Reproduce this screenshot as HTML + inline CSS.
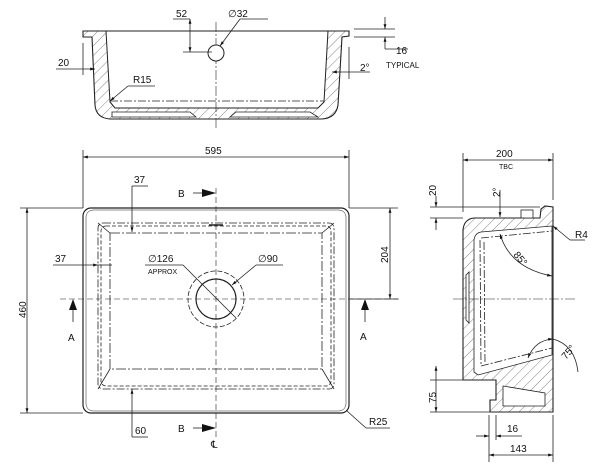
<!DOCTYPE html>
<html><head><meta charset="utf-8"><style>
html,body{margin:0;padding:0;background:#fff}
svg{display:block}
text{font-family:"Liberation Sans",sans-serif;font-size:10px;fill:#111}
</style></head><body>
<svg width="600" height="475" viewBox="0 0 600 475" xmlns="http://www.w3.org/2000/svg">
<defs>
<pattern id="h" width="7" height="7" patternUnits="userSpaceOnUse" patternTransform="rotate(45)">
<line x1="0" y1="0" x2="0" y2="7" stroke="#333" stroke-width="0.6"/></pattern>
<marker id="a" viewBox="0 0 10 10" refX="10" refY="5" markerWidth="6" markerHeight="6" orient="auto-start-reverse"><path d="M0,2 L10,5 L0,8z" fill="#111"/></marker>
</defs>
<g fill="none" stroke="#222" stroke-width="0.8">
<!-- TOP SECTION -->
<path d="M83,31 L349,31 L349,36 L342,37 L338,105 Q336,118 322,119 L110,119 Q96,118 95,105 L92,37 L83,37 Z" fill="url(#h)" stroke-width="1.1"/>
<path d="M106,31 L110,102 L115,108 L318,108 L324,102 L328,31 Z" fill="#fff" stroke-width="1"/>
<path d="M112,112 L190,112 L196,117 L112,117 Z M236,112 L310,112 L318,117 L230,117 Z" fill="#fff"/>
<line x1="106" y1="31" x2="328" y2="31" stroke-dasharray="8,2,2,2"/>
<line x1="110" y1="101" x2="324" y2="101" stroke-dasharray="8,2,2,2"/>
<line x1="216" y1="22" x2="216" y2="128" stroke-dasharray="10,2,2,2" stroke-width="0.6"/>
<circle cx="216" cy="53" r="8" fill="#fff" stroke-width="1"/>
<line x1="173" y1="19" x2="190" y2="19"/><line x1="190" y1="19" x2="190" y2="52" marker-end="url(#a)" marker-start="url(#a)"/>
<line x1="183" y1="52" x2="212" y2="52"/>
<line x1="268" y1="19" x2="240" y2="19"/><line x1="240" y1="19" x2="220" y2="46" marker-end="url(#a)"/>
<line x1="56" y1="69" x2="95" y2="69" marker-end="url(#a)"/><line x1="83" y1="43" x2="83" y2="75"/>
<line x1="155" y1="86" x2="128" y2="86"/><line x1="128" y1="86" x2="110" y2="101" marker-end="url(#a)"/>
<line x1="354" y1="29" x2="395" y2="29"/><line x1="354" y1="37" x2="395" y2="37"/>
<line x1="385" y1="17" x2="385" y2="29" marker-end="url(#a)"/><line x1="385" y1="49" x2="385" y2="37" marker-end="url(#a)"/>
<line x1="385" y1="49" x2="408" y2="49"/>
<line x1="370" y1="72" x2="332" y2="72" marker-end="url(#a)"/><line x1="349" y1="47" x2="349" y2="79"/>
</g>
<text x="176" y="17">52</text><text x="228" y="17">∅32</text>
<text x="58" y="66">20</text><text x="133" y="83">R15</text>
<text x="360" y="71">2°</text><text x="396" y="54">16</text>
<text x="386" y="68" style="font-size:8px">TYPICAL</text>

<!-- PLAN VIEW -->
<g fill="none" stroke="#222" stroke-width="0.8">
<rect x="83" y="208" width="266" height="205" rx="8" stroke-width="1.2"/>
<rect x="86" y="210" width="260" height="201" rx="7" stroke-width="0.5"/>
<rect x="98" y="223" width="236" height="166" rx="5" stroke-dasharray="8,2,2,2"/>
<rect x="101" y="226" width="230" height="160" rx="5" stroke-dasharray="4,2"/>
<rect x="110" y="233" width="212" height="136" stroke-dasharray="10,2,2,2"/>
<line x1="98" y1="223" x2="110" y2="233"/><line x1="334" y1="223" x2="322" y2="233"/>
<line x1="98" y1="389" x2="110" y2="369"/><line x1="334" y1="389" x2="322" y2="369"/>
<line x1="209" y1="225" x2="223" y2="225" stroke-width="1.5"/>
<circle cx="216" cy="299" r="20" stroke-width="1.2"/>
<circle cx="216" cy="299" r="28" stroke-dasharray="5,2"/>
<line x1="60" y1="299" x2="400" y2="299" stroke-dasharray="6,3" stroke-width="0.6"/>
<line x1="216" y1="188" x2="216" y2="440" stroke-dasharray="6,3" stroke-width="0.6"/>
<line x1="83" y1="150" x2="83" y2="208"/><line x1="349" y1="150" x2="349" y2="208"/>
<line x1="83" y1="157" x2="349" y2="157" marker-start="url(#a)" marker-end="url(#a)"/>
<line x1="20" y1="208" x2="83" y2="208"/><line x1="20" y1="413" x2="83" y2="413"/>
<line x1="27" y1="208" x2="27" y2="413" marker-start="url(#a)" marker-end="url(#a)"/>
<line x1="349" y1="208" x2="398" y2="208"/><line x1="349" y1="299" x2="398" y2="299"/>
<line x1="390" y1="208" x2="390" y2="299" marker-start="url(#a)" marker-end="url(#a)"/>
<line x1="148" y1="186" x2="132" y2="186"/><line x1="132" y1="186" x2="132" y2="232" marker-end="url(#a)"/>
<line x1="53" y1="265" x2="98" y2="265" marker-end="url(#a)"/><line x1="98" y1="265" x2="112" y2="265"/>
<line x1="145" y1="265" x2="183" y2="265"/><line x1="183" y1="265" x2="236" y2="318"/>
<line x1="283" y1="265" x2="256" y2="265"/><line x1="256" y1="265" x2="232" y2="285" marker-end="url(#a)"/>
<line x1="132" y1="437" x2="132" y2="389" marker-end="url(#a)"/><line x1="132" y1="437" x2="148" y2="437"/>
<line x1="347" y1="411" x2="366" y2="428"/><line x1="366" y1="428" x2="390" y2="428"/>
<line x1="73" y1="322" x2="73" y2="308"/>
<line x1="365" y1="322" x2="365" y2="308"/>
<line x1="193" y1="193" x2="203" y2="193"/>
<line x1="193" y1="428" x2="203" y2="428"/>
</g>
<g fill="#111">
<polygon points="73,299 69,310 77,310"/><polygon points="365,299 361,310 369,310"/>
<polygon points="216,193 202,189 202,197"/><polygon points="216,428 202,424 202,432"/>
</g>
<text x="205" y="154">595</text>
<text x="134" y="183">37</text><text x="55" y="262">37</text>
<text x="148" y="262">∅126</text><text x="148" y="274" style="font-size:7px">APPROX</text>
<text x="258" y="262">∅90</text>
<text x="68" y="341">A</text><text x="360" y="340">A</text>
<text x="178" y="197">B</text><text x="178" y="432">B</text>
<text x="135" y="434">60</text><text x="369" y="425">R25</text>
<text x="211" y="448">℄</text>
<text transform="translate(26,318) rotate(-90)">460</text>
<text transform="translate(388,263) rotate(-90)">204</text>

<!-- SIDE VIEW -->
<g fill="none" stroke="#222" stroke-width="0.8">
<path d="M463,380 L463,230 Q464,219 474,218 L540,218 L541,209 L545,206 L553,207 L553,412 L490,412 L490,400 L496,400 L496,380 Z" fill="url(#h)" stroke-width="1.1"/>
<path d="M474,372 L474,240 Q475,233 481,232 L552,226 L552,355 L478,375 Z" fill="#fff"/>
<path d="M503,386 L545,393 L545,406 L503,406 Z" fill="#fff"/>
<rect x="521" y="210" width="12" height="8" fill="#fff"/>
<path d="M466,275 L466,320 L469,323 L469,272 Z" fill="#fff"/>
<path d="M480,240 L481,365" stroke-dasharray="8,2,2,2"/><path d="M484,242 L485,362" stroke-dasharray="8,2,2,2"/>
<path d="M481,238 L552,231" stroke-dasharray="8,2,2,2"/>
<path d="M481,366 L552,348" stroke-dasharray="8,2,2,2"/>
<line x1="453" y1="299" x2="575" y2="299" stroke-dasharray="10,2,2,2" stroke-width="0.6"/>
<line x1="463" y1="153" x2="463" y2="212"/><line x1="553" y1="153" x2="553" y2="200"/>
<line x1="463" y1="160" x2="553" y2="160" marker-start="url(#a)" marker-end="url(#a)"/>
<line x1="430" y1="207" x2="540" y2="207"/><line x1="430" y1="218" x2="463" y2="218"/>
<line x1="436" y1="196" x2="436" y2="207" marker-end="url(#a)"/><line x1="436" y1="230" x2="436" y2="218" marker-end="url(#a)"/>
<line x1="500" y1="190" x2="500" y2="217" marker-end="url(#a)"/>
<line x1="585" y1="240" x2="570" y2="240"/><line x1="570" y1="240" x2="553" y2="226" marker-end="url(#a)"/>
<path d="M500,234 Q510,268 552,276" marker-start="url(#a)" marker-end="url(#a)"/>
<path d="M528,358 Q535,340 553,339" marker-start="url(#a)" marker-end="url(#a)"/>
<path d="M553,339 Q575,345 578,372"/>
<line x1="430" y1="380" x2="463" y2="380"/><line x1="430" y1="412" x2="490" y2="412"/>
<line x1="436" y1="366" x2="436" y2="412" marker-start="url(#a)" marker-end="url(#a)"/>
<line x1="489" y1="415" x2="489" y2="462"/><line x1="496" y1="415" x2="496" y2="440"/><line x1="553" y1="415" x2="553" y2="462"/>
<line x1="476" y1="436" x2="489" y2="436" marker-end="url(#a)"/><line x1="522" y1="436" x2="496" y2="436" marker-end="url(#a)"/>
<line x1="489" y1="455" x2="553" y2="455" marker-start="url(#a)" marker-end="url(#a)"/>
</g>
<text x="496" y="157">200</text><text x="499" y="169" style="font-size:7px">TBC</text>
<text transform="translate(436,196) rotate(-90)">20</text>
<text transform="translate(500,197) rotate(-90)">2°</text>
<text x="575" y="238">R4</text>
<text transform="translate(513,255) rotate(50)">85°</text>
<text transform="translate(566,360) rotate(-50)">75°</text>
<text transform="translate(436,403) rotate(-90)">75</text>
<text x="507" y="432">16</text><text x="510" y="452">143</text>
</svg>
</body></html>
